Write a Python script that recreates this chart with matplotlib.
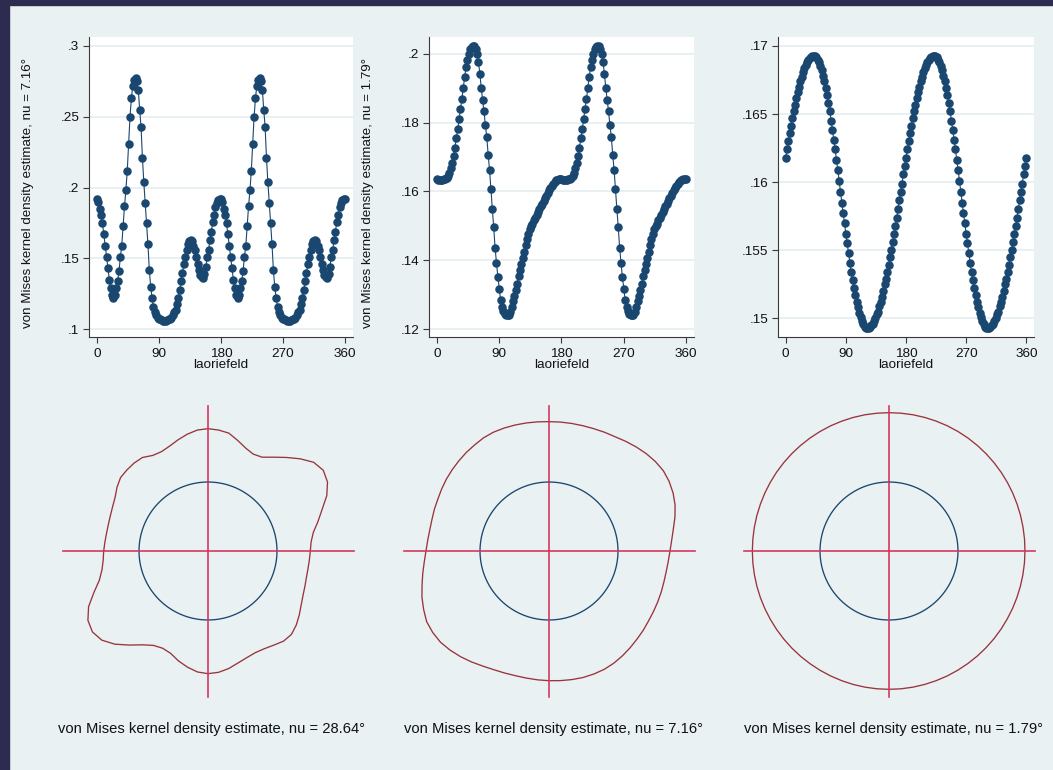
import numpy as np
import matplotlib
matplotlib.use("Agg")
import matplotlib.pyplot as plt
from matplotlib.patches import Rectangle

plt.rcParams['font.family'] = ['Liberation Sans', 'DejaVu Sans']

# angle grid of the density estimates (degrees)
angle = list(range(0, 361, 2))

# kernel density, nu = 7.16
dens_a = [.192, .190, .185, .181, .175, .167, .159, .151, .143, .135,
          .129, .124, .122, .124, .129, .134, .141, .151, .159, .173,
          .187, .198, .212, .231, .250, .263, .272, .276, .2775, .275,
          .269, .255, .243, .221, .204, .189, .175, .160, .142, .130,
          .122, .116, .112, .110, .108, .1075, .107, .1065, .106, .106,
          .106, .1065, .107, .1075, .108, .110, .112, .114, .118, .122,
          .128, .134, .140, .146, .151, .156, .160, .162, .163, .162,
          .159, .156, .151, .146, .142, .138, .137, .136, .139, .144,
          .151, .156, .163, .169, .176, .181, .186, .189, .191, .192,
          .192,
          .190, .185, .181, .175, .167, .159, .151, .143, .135,
          .129, .124, .122, .124, .129, .134, .141, .151, .159, .173,
          .187, .198, .212, .231, .250, .263, .272, .276, .2775, .275,
          .269, .255, .243, .221, .204, .189, .175, .160, .142, .130,
          .122, .116, .112, .110, .108, .1075, .107, .1065, .106, .106,
          .106, .1065, .107, .1075, .108, .110, .112, .114, .118, .122,
          .128, .134, .140, .146, .151, .156, .160, .162, .163, .162,
          .159, .156, .151, .146, .142, .138, .137, .136, .139, .144,
          .151, .156, .163, .169, .176, .181, .186, .189, .191, .192,
          .192]

# kernel density, nu = 1.79
dens_b = [.1635, .1634, .1634, .1634, .1634, .1635, .1636, .1638, .1645, .1655,
          .1668, .1683, .1704, .1727, .1755, .1780, .1810, .1840, .1867, .1900,
          .1932, .1960, .1980, .1998, .2012, .2020, .2023, .2022, .2014, .1998,
          .1976, .1942, .1900, .1865, .1832, .1792, .1758, .1707, .1663, .1606,
          .1550, .1497, .1437, .1393, .1353, .1318, .1285, .1265, .1252, .1245,
          .1241, .1241, .1243, .1250, .1265, .1281, .1298, .1314, .1333, .1355,
          .1373, .1390, .1406, .1425, .1445, .1463, .1478, .1490, .1500, .1507,
          .1516, .1524, .1532, .1540, .1549, .1557, .1565, .1572, .1580, .1588,
          .1596, .1604, .1611, .1617, .1623, .1628, .1632, .1634, .1635, .1635,
          .1635,
          .1634, .1634, .1634, .1634, .1635, .1636, .1638, .1645, .1655,
          .1668, .1683, .1704, .1727, .1755, .1780, .1810, .1840, .1867, .1900,
          .1932, .1960, .1980, .1998, .2012, .2020, .2023, .2022, .2014, .1998,
          .1976, .1942, .1900, .1865, .1832, .1792, .1758, .1707, .1663, .1606,
          .1550, .1497, .1437, .1393, .1353, .1318, .1285, .1265, .1252, .1245,
          .1241, .1241, .1243, .1250, .1265, .1281, .1298, .1314, .1333, .1355,
          .1373, .1390, .1406, .1425, .1445, .1463, .1478, .1490, .1500, .1507,
          .1516, .1524, .1532, .1540, .1549, .1557, .1565, .1572, .1580, .1588,
          .1596, .1604, .1611, .1617, .1623, .1628, .1632, .1634, .1635, .1635,
          .1635]

# third panel (no axis title)
dens_c = [.1618, .1624, .1630, .1636, .1641, .1647, .1652, .1657, .1662, .1666,
          .1670, .1674, .1677, .1681, .1684, .1686, .1688, .1690, .1691, .1692,
          .1693, .1693, .1693, .1692, .1690, .1688, .1685, .1682, .1678, .1674,
          .1669, .1664, .1658, .1652, .1645, .1638, .1631, .1624, .1616, .1609,
          .1601, .1593, .1585, .1577, .1570, .1562, .1555, .1548, .1541, .1534,
          .1528, .1522, .1517, .1512, .1508, .1504, .1501, .1498, .1496, .1494,
          .1493, .1493, .1493, .1494, .1495, .1496, .1498, .1500, .1503, .1505,
          .1509, .1512, .1516, .1520, .1525, .1529, .1534, .1539, .1545, .1550,
          .1556, .1562, .1568, .1574, .1580, .1587, .1593, .1599, .1606, .1612,
          .1618,
          .1624, .1630, .1636, .1641, .1647, .1652, .1657, .1662, .1666,
          .1670, .1674, .1677, .1681, .1684, .1686, .1688, .1690, .1691, .1692,
          .1693, .1693, .1693, .1692, .1690, .1688, .1685, .1682, .1678, .1674,
          .1669, .1664, .1658, .1652, .1645, .1638, .1631, .1624, .1616, .1609,
          .1601, .1593, .1585, .1577, .1570, .1562, .1555, .1548, .1541, .1534,
          .1528, .1522, .1517, .1512, .1508, .1504, .1501, .1498, .1496, .1494,
          .1493, .1493, .1493, .1494, .1495, .1496, .1498, .1500, .1503, .1505,
          .1509, .1512, .1516, .1520, .1525, .1529, .1534, .1539, .1545, .1550,
          .1556, .1562, .1568, .1574, .1580, .1587, .1593, .1599, .1606, .1612,
          .1618]

xticks = [0, 90, 180, 270, 360]
yticks_a = [.1, .15, .2, .25, .3]
ylabs_a = ['.1', '.15', '.2', '.25', '.3']
yticks_b = [.12, .14, .16, .18, .2]
ylabs_b = ['.12', '.14', '.16', '.18', '.2']
yticks_c = [.15, .155, .16, .165, .17]
ylabs_c = ['.15', '.155', '.16', '.165', '.17']
ytitle_a = "von Mises kernel density estimate, nu = 7.16°"
ytitle_b = "von Mises kernel density estimate, nu = 1.79°"
xtitle = "laoriefeld"

# rose curves: radius (inner circle = 1) every 5 degrees, clockwise from north
rose_angle = list(range(0, 360, 5))
rose_a = [1.773, 1.760, 1.735, 1.66, 1.59, 1.55, 1.57, 1.66, 1.77, 1.89,
          2.00, 2.04, 2.00, 1.90, 1.76, 1.65, 1.55, 1.50, 1.483, 1.475,
          1.472, 1.477, 1.495, 1.52, 1.56, 1.615, 1.67, 1.71, 1.705, 1.665,
          1.635, 1.625, 1.645, 1.68, 1.73, 1.765, 1.778, 1.76, 1.71, 1.65,
          1.58, 1.555, 1.58, 1.66, 1.78, 1.91, 2.01, 2.045, 2.01, 1.91,
          1.76, 1.63, 1.56, 1.525, 1.512, 1.50, 1.493, 1.495, 1.505, 1.525,
          1.555, 1.61, 1.655, 1.662, 1.665, 1.655, 1.60, 1.59, 1.62, 1.67,
          1.72, 1.76]
rose_b = [1.875, 1.876, 1.878, 1.881, 1.888, 1.900, 1.913, 1.940, 1.968, 1.995,
          2.015, 2.025, 2.012, 1.985, 1.945, 1.89, 1.83, 1.785, 1.754, 1.735,
          1.725, 1.725, 1.732, 1.740, 1.750, 1.763, 1.785, 1.805, 1.830, 1.855,
          1.878, 1.893, 1.898, 1.899, 1.893, 1.886, 1.880, 1.875, 1.871, 1.872,
          1.882, 1.898, 1.925, 1.962, 1.998, 2.030, 2.055, 2.058, 2.048, 2.005,
          1.96, 1.905, 1.858, 1.815, 1.783, 1.765, 1.755, 1.757, 1.768, 1.778,
          1.797, 1.816, 1.832, 1.848, 1.865, 1.878, 1.895, 1.901, 1.897, 1.891,
          1.885, 1.879]
rose_c = [2.005, 2.005, 2.005, 2.004, 2.003, 2.002, 2.000, 1.998, 1.995, 1.992,
          1.989, 1.986, 1.983, 1.980, 1.977, 1.975, 1.973, 1.972, 1.971, 1.971,
          1.971, 1.972, 1.973, 1.975, 1.977, 1.980, 1.983, 1.986, 1.989, 1.992,
          1.995, 1.998, 2.000, 2.002, 2.004, 2.005, 2.005, 2.005, 2.004, 2.003,
          2.001, 1.999, 1.997, 1.995, 1.993, 1.991, 1.989, 1.987, 1.985, 1.984,
          1.983, 1.982, 1.981, 1.981, 1.981, 1.981, 1.982, 1.983, 1.984, 1.986,
          1.988, 1.990, 1.992, 1.994, 1.996, 1.998, 2.000, 2.002, 2.003, 2.004,
          2.005, 2.005]
captions = ["von Mises kernel density estimate, nu = 28.64°",
            "von Mises kernel density estimate, nu = 7.16°",
            "von Mises kernel density estimate, nu = 1.79°"]

W, H = 1053, 770
bg = '#eaf1f3'
navy = '#1a476f'
maroon = '#98343c'
crimson = '#d5375f'
axcol = '#3a3a3a'

fig = plt.figure(figsize=(W / 100, H / 100), dpi=100, facecolor=bg)
fig.patches.append(Rectangle((0, 1 - 5 / H), 1, 5 / H, transform=fig.transFigure,
                             color='#2e2b50', zorder=0))
fig.patches.append(Rectangle((0, 0), 9 / W, 1, transform=fig.transFigure,
                             color='#2e2b50', zorder=0))

# top row: density curves
top = [(dens_a, yticks_a, ylabs_a, (0.0946, 0.3063), 89, 264, ytitle_a, 28),
       (dens_b, yticks_b, ylabs_b, (0.1178, 0.2048), 429, 265, ytitle_b, 368),
       (dens_c, yticks_c, ylabs_c, (0.14863, 0.17066), 778, 256, None, None)]

for d, yt, yl, ylim, left, width, ytitle, tx in top:
    ax = fig.add_axes([left / W, 1 - 337 / H, width / W, 300 / H])
    ax.set_facecolor('white')
    ax.plot(angle, d, '-', color=navy, lw=0.8, marker='o', ms=5.1,
            mfc=navy, mec=navy, zorder=3)
    ax.set_xlim(-11.5, 371.5)
    ax.set_ylim(*ylim)
    ax.set_xticks(xticks)
    ax.set_xticklabels([str(t) for t in xticks])
    ax.set_yticks(yt)
    ax.set_yticklabels(yl)
    ax.yaxis.grid(True, color='#e6eff1', lw=1.3)
    ax.set_axisbelow(True)
    for s in ('top', 'right'):
        ax.spines[s].set_visible(False)
    for s in ('left', 'bottom'):
        ax.spines[s].set_color(axcol)
        ax.spines[s].set_linewidth(0.8)
    ax.tick_params(direction='out', length=4.5, width=0.8, color=axcol,
                   labelsize=9.7, labelcolor='#111111')
    ax.tick_params(axis='x', pad=3.5)
    ax.tick_params(axis='y', pad=2.5)
    ax.set_xlabel(xtitle, fontsize=9.7, labelpad=-0.5, color='#111111')
    if ytitle:
        fig.text(tx / W, 1 - 193 / H, ytitle, rotation=90, ha='center',
                 va='center', fontsize=9.6, color='#111111')

# bottom row: circular plots
centers = [(208, 551), (549, 551), (889, 551)]
L = 2.109
half = 145.5
for (cx, cy), r, cap in zip(centers, [rose_a, rose_b, rose_c], captions):
    ax = fig.add_axes([(cx - half) / W, 1 - (cy + half) / H, 2 * half / W, 2 * half / H],
                      projection='polar')
    ax.set_theta_zero_location('N')
    ax.set_theta_direction(-1)
    ax.set_ylim(0, L)
    ax.axis('off')
    th = np.deg2rad(rose_angle + [360])
    ax.plot(th, r + r[:1], color=maroon, lw=0.95)
    circ = np.linspace(0, 2 * np.pi, 361)
    ax.plot(circ, np.ones_like(circ), color=navy, lw=0.95)
    for a in (0, 90, 180, 270):
        ax.plot([np.deg2rad(a)] * 2, [0, L], color=crimson, lw=1.2, clip_on=False)
    fig.text((cx + 4) / W, 1 - 729 / H, cap, ha='center', va='center',
             fontsize=10.6, color='#111111')

fig.savefig('out.png', dpi=100, facecolor=bg)
